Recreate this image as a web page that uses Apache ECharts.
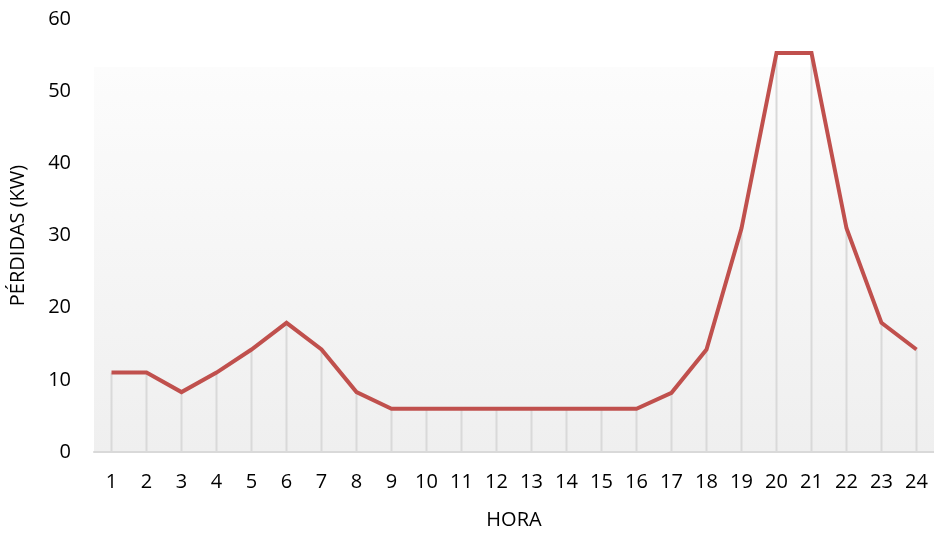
<!DOCTYPE html>
<html>
<head>
<meta charset="utf-8">
<script src="https://cdn.jsdelivr.net/npm/echarts@6/dist/echarts.min.js"></script>
<style>html,body{margin:0;padding:0;background:#fff}#c{width:934px;height:535px}</style>
</head>
<body>
<div id="c"></div>
<script>
const horas = ['1','2','3','4','5','6','7','8','9','10','11','12','13','14','15','16','17','18','19','20','21','22','23','24'];
const perdidas = [11, 11, 8.3, 11, 14.2, 17.9, 14.2, 8.3, 6, 6, 6, 6, 6, 6, 6, 6, 8.2, 14.2, 31, 55.3, 55.3, 31, 17.9, 14.2];
const yTicks = [0, 10, 20, 30, 40, 50, 60];
const yName = 'PÉRDIDAS (KW)';
const xName = 'HORA';

const chart = echarts.init(document.getElementById('c'));
const font = '"Open Sans", "Liberation Sans", sans-serif';
chart.setOption({
  animation: false,
  grid: {
    left: 93, right: 0, top: 19, bottom: 80,
    show: true, borderWidth: 0,
    backgroundColor: new echarts.graphic.LinearGradient(0, 0, 0, 1, [
      {offset: 0, color: '#ffffff'},
      {offset: 0.11, color: '#ffffff'},
      {offset: 0.112, color: '#fcfcfc'},
      {offset: 1, color: '#efefef'}
    ])
  },
  xAxis: {
    type: 'category',
    data: horas,
    boundaryGap: true,
    name: xName,
    nameLocation: 'middle',
    nameGap: 58,
    nameTextStyle: {fontFamily: font, fontSize: 20, color: '#000'},
    axisLine: {lineStyle: {color: '#d9d9d9', width: 2}},
    axisTick: {show: false},
    axisLabel: {fontFamily: font, fontSize: 20, color: '#000', margin: 20, interval: 0}
  },
  yAxis: {
    type: 'value',
    min: yTicks[0], max: yTicks[yTicks.length - 1], interval: 10,
    name: yName,
    nameLocation: 'middle',
    nameGap: 66,
    nameTextStyle: {fontFamily: font, fontSize: 20, color: '#000'},
    axisLine: {show: false},
    axisTick: {show: false},
    splitLine: {show: false},
    axisLabel: {fontFamily: font, fontSize: 20, color: '#000', margin: 23}
  },
  series: [
    {
      type: 'bar',
      data: perdidas,
      barWidth: 2,
      itemStyle: {color: '#d9d9d9'},
      z: 1,
      silent: true
    },
    {
      type: 'line',
      data: perdidas,
      symbol: 'none',
      lineStyle: {color: '#c0504d', width: 4, join: 'miter'},
      z: 3
    }
  ]
});
</script>
</body>
</html>
